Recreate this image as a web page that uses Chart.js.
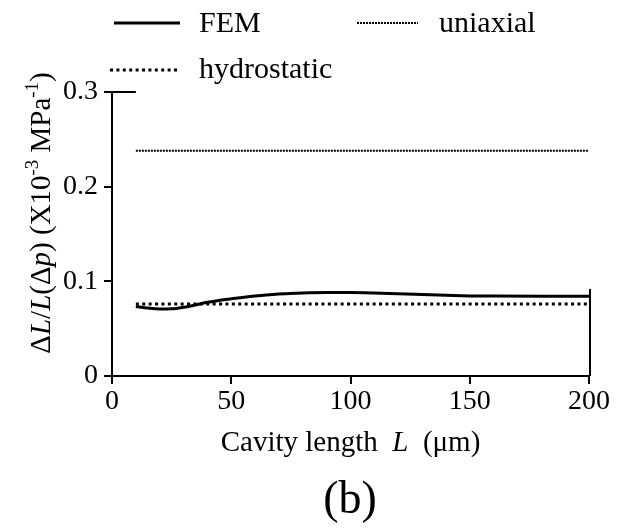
<!DOCTYPE html>
<html>
<head>
<meta charset="utf-8">
<script src="https://cdn.jsdelivr.net/npm/chart.js@4"></script>
<style>
  html, body { margin: 0; padding: 0; background: #fff; }
  #wrap { width: 617px; height: 528px; }
</style>
</head>
<body>
<div id="wrap"><canvas id="chart_b" width="617" height="528"></canvas></div>
<script>
// values
const femX = [10, 15, 20, 25, 30, 35, 40, 50, 60, 70, 80, 90, 100, 110, 120, 130, 140, 150, 160, 180, 200]
const femY = [0.0735, 0.0718, 0.0708, 0.0710, 0.0726, 0.0750, 0.0778, 0.0815, 0.0845, 0.0865, 0.0877, 0.0882, 0.0882, 0.0877, 0.0868, 0.0860, 0.0852, 0.0846, 0.0844, 0.0843, 0.0843]
const uniaxialX = [10, 200]
const uniaxialY = [0.238, 0.238]
const hydroX = [10, 200]
const hydroY = [0.0760, 0.0760]
const xTicks = [0, 50, 100, 150, 200]
const yTicks = [0, 0.1, 0.2, 0.3]

const serif = "'Liberation Serif', 'Times New Roman', serif"

const toPoints = (xs, ys) => xs.map((x, i) => ({ x: x, y: ys[i] }))

// draws text made of pieces (italic / superscript)
const richWidth = (ctx, parts, size) => {
  let w = 0
  parts.forEach(p => {
    ctx.font = (p.it ? 'italic ' : '') + (p.sup ? size * 0.65 : size) + 'px ' + serif
    w += ctx.measureText(p.t).width
  })
  return w
}
const richText = (ctx, parts, x, y, size) => {
  let cx = x
  parts.forEach(p => {
    ctx.font = (p.it ? 'italic ' : '') + (p.sup ? size * 0.65 : size) + 'px ' + serif
    ctx.fillText(p.t, cx, p.sup ? y - size * 0.4 : y)
    cx += ctx.measureText(p.t).width
  })
}

const yLabel = [
  { t: 'Δ' }, { t: 'L', it: true }, { t: '/' }, { t: 'L', it: true }, { t: '(Δ' }, { t: 'p', it: true }, { t: ') (X10' },
  { t: '-3', sup: true }, { t: ' MPa' }, { t: '-1', sup: true }, { t: ')' }
]
const xLabel = [{ t: 'Cavity length  ' }, { t: 'L', it: true }, { t: '  (μm)' }]

const extras = {
  id: 'extras',
  beforeDraw: (chart) => {
    const ctx = chart.ctx
    ctx.save()
    ctx.fillStyle = '#fff'
    ctx.fillRect(0, 0, chart.width, chart.height)
    ctx.restore()
  },
  afterDraw: (chart) => {
    const ctx = chart.ctx
    const xs = chart.scales.x
    const ys = chart.scales.y
    const sets = chart.data.datasets
    ctx.save()
    ctx.fillStyle = '#000'
    ctx.strokeStyle = '#000'

    // short top piece and partial right side of the frame
    ctx.lineWidth = 2
    ctx.beginPath()
    ctx.moveTo(xs.getPixelForValue(0), ys.getPixelForValue(0.3))
    ctx.lineTo(xs.getPixelForValue(10), ys.getPixelForValue(0.3))
    ctx.moveTo(xs.getPixelForValue(200) + 1, ys.getPixelForValue(0))
    ctx.lineTo(xs.getPixelForValue(200) + 1, ys.getPixelForValue(0.092))
    ctx.stroke()

    // legend
    const items = [
      { ds: sets[0], x1: 114, x2: 180, y: 23, tx: 199, ty: 32 },
      { ds: sets[1], x1: 357, x2: 418, y: 23, tx: 439, ty: 32 },
      { ds: sets[2], x1: 110, x2: 180, y: 70, tx: 199, ty: 78 }
    ]
    items.forEach(it => {
      ctx.lineWidth = it.ds.borderWidth
      ctx.setLineDash(it.ds.borderDash || [])
      ctx.beginPath()
      ctx.moveTo(it.x1, it.y)
      ctx.lineTo(it.x2, it.y)
      ctx.stroke()
      ctx.setLineDash([])
      ctx.font = '30px ' + serif
      ctx.textAlign = 'left'
      ctx.textBaseline = 'alphabetic'
      ctx.fillText(it.ds.label, it.tx, it.ty)
    })

    // x title
    const xs0 = 29
    const xw = richWidth(ctx, xLabel, xs0)
    ctx.textAlign = 'left'
    richText(ctx, xLabel, (xs.left + xs.right) / 2 - xw / 2, 451, xs0)

    // y title, rotated
    const ysz = 29
    const yw = richWidth(ctx, yLabel, ysz)
    ctx.save()
    ctx.translate(50, 213)
    ctx.rotate(-Math.PI / 2)
    richText(ctx, yLabel, -yw / 2, 0, ysz)
    ctx.restore()

    // panel letter
    ctx.font = '46px ' + serif
    ctx.textAlign = 'center'
    ctx.fillText('(b)', 350, 513)
    ctx.restore()
  }
}

new Chart(
  document.getElementById('chart_b'),
  {
    type: 'line',
    data: {
      datasets: [
        {
          label: 'FEM',
          data: toPoints(femX, femY),
          borderColor: '#000',
          borderWidth: 3,
          pointRadius: 0,
          cubicInterpolationMode: 'monotone'
        },
        {
          label: 'uniaxial',
          data: toPoints(uniaxialX, uniaxialY),
          borderColor: '#000',
          borderWidth: 2,
          borderDash: [2, 1],
          pointRadius: 0
        },
        {
          label: 'hydrostatic',
          data: toPoints(hydroX, hydroY),
          borderColor: '#000',
          borderWidth: 3,
          borderDash: [3, 3.4],
          pointRadius: 0
        }
      ]
    },
    options: {
      responsive: false,
      animation: false,
      events: [],
      layout: { padding: { top: 92, right: 28, left: 0, bottom: 0 } },
      plugins: { legend: { display: false }, tooltip: { enabled: false } },
      scales: {
        x: {
          type: 'linear',
          min: 0,
          max: 200,
          afterBuildTicks: (s) => { s.ticks = xTicks.map(v => ({ value: v })) },
          afterFit: (s) => { s.height = 152 },
          ticks: { color: '#000', font: { family: serif, size: 28 }, padding: 1, maxRotation: 0, autoSkip: false },
          grid: { drawOnChartArea: false, drawTicks: true, tickLength: 8, color: '#000', lineWidth: 2 },
          border: { color: '#000', width: 2 }
        },
        y: {
          min: 0,
          max: 0.3,
          afterBuildTicks: (s) => { s.ticks = yTicks.map(v => ({ value: v })) },
          afterFit: (s) => { s.width = 112 },
          ticks: {
            color: '#000', font: { family: serif, size: 28 }, padding: 6, autoSkip: false,
            callback: (v) => v === 0 ? '0' : v.toFixed(1)
          },
          grid: { drawOnChartArea: false, drawTicks: true, tickLength: 8, color: '#000', lineWidth: 2 },
          border: { color: '#000', width: 2 }
        }
      }
    },
    plugins: [extras]
  }
)
</script>
</body>
</html>
